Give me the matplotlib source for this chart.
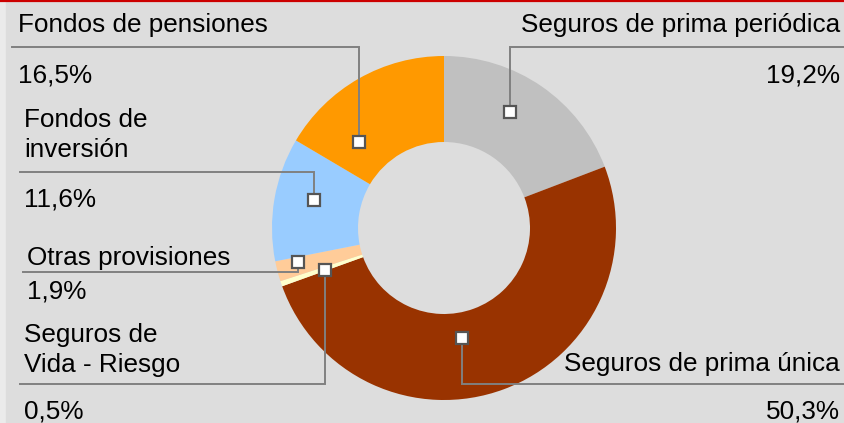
import numpy as np
import matplotlib
matplotlib.use("Agg")
import matplotlib.pyplot as plt

# shares of the provisions, clockwise from 12 o'clock
categories = ["Seguros de prima periódica", "Seguros de prima única",
              "Seguros de\nVida - Riesgo", "Otras provisiones",
              "Fondos de\ninversión", "Fondos de pensiones"]
shares = [19.2, 50.3, 0.5, 1.9, 11.6, 16.5]
pct_labels = ["19,2%", "50,3%", "0,5%", "1,9%", "11,6%", "16,5%"]
colors = ["#C0C0C0", "#993300", "#FFFFCC", "#FFCC99", "#99CCFF", "#FF9900"]

# layout (pixel space, y downwards)
W, H = 845, 423
cx, cy, R = 444, 228, 172
# where the marker sits inside each wedge: fraction of the sweep, radius
anchor_frac = [0.43, 0.56, 0.05, 0.70, 0.56, 0.25]
anchor_rad = [133, 112, 126, 150, 133, 121]
# horizontal leader level, end x, label side
line_y = [47, 384, 384, 272, 172, 47]
line_end = [845, 845, 20, 23, 20, 12]
side = ["right", "right", "left", "left", "left", "left"]
name_xy = [(840, 32), (840, 371), (24, 372), (27, 265), (24, 157), (18, 32)]
pct_xy = [(840, 82), (840, 418), (24, 418), (27, 298), (24, 206), (18, 82)]

plt.rcParams['font.family'] = ['Liberation Sans', 'DejaVu Sans']
FS = 18.8

fig = plt.figure(figsize=(W / 100, H / 100), dpi=100)
fig.patch.set_facecolor("#EBEBEB")
ax = fig.add_axes([0, 0, 1, 1])

# y axis runs downwards, so clockwise on screen is counterclockwise in data
wedges, _ = ax.pie(shares, colors=colors, startangle=-90, counterclock=True,
                   center=(cx, cy), radius=R, frame=True,
                   wedgeprops=dict(width=R * 0.5, linewidth=0))
ax.set_xlim(0, W)
ax.set_ylim(H, 0)
ax.set_aspect("equal")
ax.axis("off")

# background panel and red top rule
ax.add_patch(plt.Rectangle((6, 0), W - 6, H, color="#DDDDDD", zorder=0))
ax.plot([0, W], [1, 1], color="#CC0000", lw=1.6, zorder=1)

for i, w in enumerate(wedges):
    t = np.deg2rad(w.theta1 + anchor_frac[i] * (w.theta2 - w.theta1))
    mx = cx + anchor_rad[i] * np.cos(t)
    my = cy + anchor_rad[i] * np.sin(t)
    ly = line_y[i]
    ax.plot([mx, mx, line_end[i]], [my, ly, ly], color="#808080",
            lw=1.4, zorder=3, solid_joinstyle="miter")
    ax.plot(mx, my, marker="s", ms=8.5, mfc="white", mec="#555555",
            mew=1.6, zorder=4)
    ha = "right" if side[i] == "right" else "left"
    ax.text(*name_xy[i], categories[i], ha=ha, va="baseline", fontsize=FS,
            color="black", linespacing=1.32, zorder=5)
    ax.text(*pct_xy[i], pct_labels[i], ha=ha, va="baseline", fontsize=FS,
            color="black", zorder=5)

fig.savefig("out.png", dpi=100, facecolor=fig.get_facecolor())
